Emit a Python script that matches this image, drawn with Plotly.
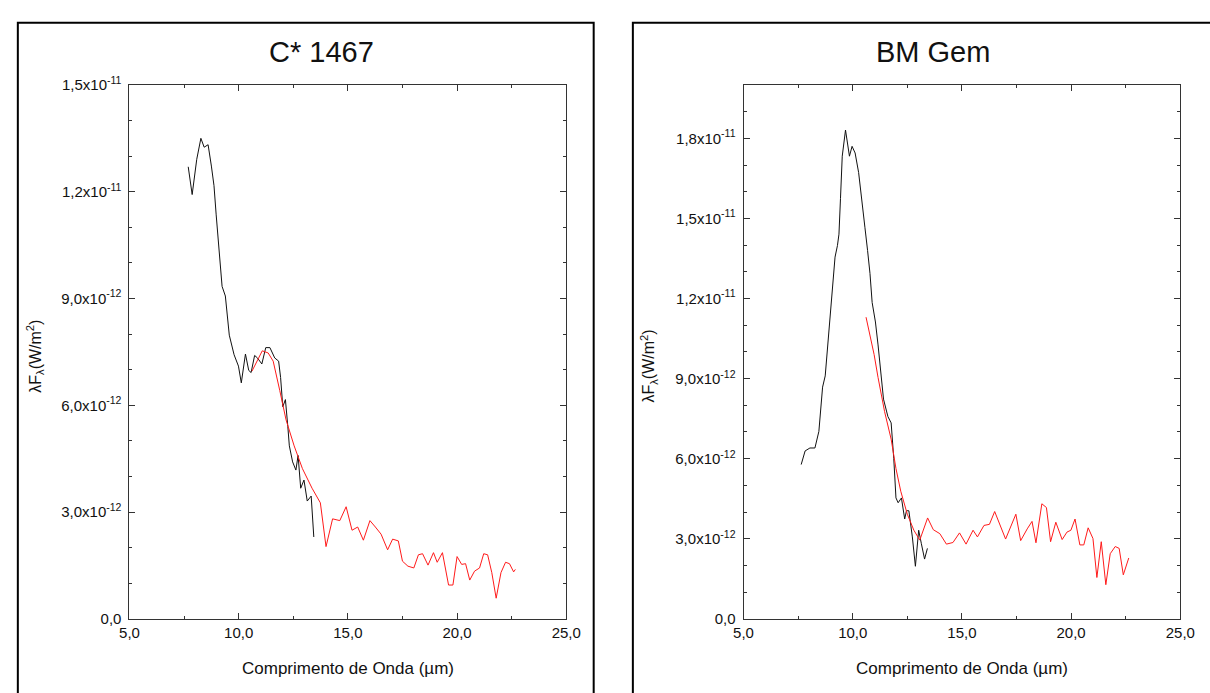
import plotly.graph_objects as go

# ---------------- data (units: x in micrometres, y in 1e-12 W/m^2) ----------------
c1467_black_x = [7.69, 7.87, 8.08, 8.27, 8.42, 8.60, 8.75, 8.87, 8.97, 9.09, 9.24, 9.39, 9.57, 9.79,
                 9.99, 10.12, 10.31, 10.46, 10.57, 10.73, 10.86, 11.06, 11.24, 11.43, 11.65, 11.83,
                 11.92, 12.02, 12.14, 12.25, 12.32, 12.47, 12.62, 12.72, 12.84, 12.99, 13.14, 13.32, 13.44]
c1467_black_y = [12.70, 11.92, 12.91, 13.50, 13.25, 13.32, 12.72, 12.17, 11.35, 10.53, 9.34, 9.07, 7.97, 7.42,
                 7.10, 6.63, 7.44, 6.98, 6.92, 7.40, 7.33, 7.16, 7.62, 7.62, 7.33, 7.24,
                 6.78, 5.96, 6.16, 5.41, 4.86, 4.41, 4.18, 4.59, 3.67, 3.90, 3.31, 3.45, 2.30]

c1467_red_x = [10.61, 10.83, 11.08, 11.35, 11.58, 11.88, 12.17, 12.54, 12.92, 13.36, 13.74, 14.00, 14.30,
               14.63, 14.92, 15.19, 15.45, 15.71, 16.01, 16.26, 16.52, 16.82, 17.05, 17.31, 17.50, 17.75,
               18.02, 18.23, 18.42, 18.67, 18.92, 19.09, 19.33, 19.61, 19.81, 20.00, 20.21, 20.39, 20.58,
               20.80, 21.03, 21.22, 21.40, 21.59, 21.79, 22.01, 22.22, 22.40, 22.59, 22.67]
c1467_red_y = [6.96, 7.24, 7.53, 7.47, 7.24, 6.42, 5.59, 4.86, 4.22, 3.67, 3.26, 2.03, 2.81,
               2.76, 3.15, 2.49, 2.58, 2.21, 2.76, 2.58, 2.38, 1.94, 2.24, 2.19, 1.62, 1.48,
               1.43, 1.80, 1.83, 1.51, 1.86, 1.59, 1.86, 0.95, 0.95, 1.75, 1.53, 1.55, 1.09,
               1.34, 1.43, 1.83, 1.80, 1.30, 0.58, 1.30, 1.59, 1.55, 1.32, 1.39]

bmgem_black_x = [7.64, 7.82, 8.04, 8.27, 8.45, 8.62, 8.74, 8.85, 8.95, 9.07, 9.19, 9.30, 9.37, 9.44,
                 9.52, 9.67, 9.74, 9.85, 9.97, 10.11, 10.27, 10.41, 10.56, 10.68, 10.79, 10.89, 11.04,
                 11.16, 11.31, 11.41, 11.61, 11.76, 11.88, 11.98, 12.08, 12.23, 12.38, 12.46, 12.57,
                 12.73, 12.87, 13.02, 13.14, 13.29, 13.42]
bmgem_black_y = [5.78, 6.29, 6.40, 6.40, 7.02, 8.68, 9.10, 10.14, 11.24, 12.21, 13.55, 13.98, 14.41, 15.75,
                 17.33, 18.31, 17.94, 17.33, 17.70, 17.45, 16.72, 15.62, 14.65, 13.80, 12.94, 11.85, 11.12,
                 10.26, 9.17, 8.23, 7.58, 7.34, 6.00, 4.53, 4.35, 4.53, 3.74, 4.05, 4.05,
                 3.07, 1.97, 3.32, 2.83, 2.24, 2.64]

bmgem_red_x = [10.61, 10.79, 10.98, 11.16, 11.34, 11.46, 11.76, 11.98, 12.20, 12.50, 12.65, 12.80, 13.07,
               13.43, 13.69, 13.99, 14.29, 14.59, 14.89, 15.19, 15.51, 15.71, 16.01, 16.26, 16.50, 16.75,
               17.00, 17.47, 17.69, 17.99, 18.21, 18.39, 18.66, 18.87, 19.06, 19.30, 19.59, 19.81, 19.99,
               20.18, 20.40, 20.58, 20.78, 21.00, 21.18, 21.38, 21.59, 21.79, 22.02, 22.20, 22.39, 22.64]
bmgem_red_y = [11.30, 10.63, 9.90, 9.04, 8.23, 7.76, 6.73, 5.63, 4.78, 3.92, 3.62, 3.32, 2.95,
               3.78, 3.34, 3.19, 2.80, 2.86, 3.22, 2.80, 3.32, 3.07, 3.50, 3.54, 4.02, 3.50,
               2.99, 3.92, 2.93, 3.37, 3.65, 2.85, 4.31, 4.17, 2.89, 3.62, 2.97, 3.25, 3.32,
               3.74, 2.77, 2.77, 3.41, 3.01, 1.55, 2.89, 1.28, 2.44, 2.71, 2.64, 1.65, 2.28]

titles = ["C* 1467", "BM Gem"]
x_ticks = [5, 10, 15, 20, 25]
x_ticktext = ["5,0", "10,0", "15,0", "20,0", "25,0"]
y_ticks_left = [0, 3, 6, 9, 12, 15]
y_ticks_right = [0, 3, 6, 9, 12, 15, 18]
y_ticktext_all = ["0,0", "3,0x10<sup>-12</sup>", "6,0x10<sup>-12</sup>", "9,0x10<sup>-12</sup>",
                  "1,2x10<sup>-11</sup>", "1,5x10<sup>-11</sup>", "1,8x10<sup>-11</sup>"]
x_title = "Comprimento de Onda (µm)"
y_title = "λF<sub>λ</sub>(W/m<sup>2</sup>)"

SCALE = 1e-12

W, H = 1210, 693
FONT = "Liberation Sans, Arial, sans-serif"


def px(x):
    return x / W


def py(y):
    return 1 - y / H


fig = go.Figure()

line_black = dict(color="#111111", width=1)
line_red = dict(color="#ff1a1a", width=1)

fig.add_trace(go.Scatter(x=c1467_black_x, y=[v * SCALE for v in c1467_black_y], mode="lines",
                         line=line_black, xaxis="x", yaxis="y", showlegend=False))
fig.add_trace(go.Scatter(x=c1467_red_x, y=[v * SCALE for v in c1467_red_y], mode="lines",
                         line=line_red, xaxis="x", yaxis="y", showlegend=False))
fig.add_trace(go.Scatter(x=bmgem_black_x, y=[v * SCALE for v in bmgem_black_y], mode="lines",
                         line=line_black, xaxis="x2", yaxis="y2", showlegend=False))
fig.add_trace(go.Scatter(x=bmgem_red_x, y=[v * SCALE for v in bmgem_red_y], mode="lines",
                         line=line_red, xaxis="x2", yaxis="y2", showlegend=False))

axis_common = dict(showline=True, linecolor="#333333", linewidth=1, mirror="allticks",
                   ticks="inside", ticklen=6, tickcolor="#333333", showgrid=False, zeroline=False,
                   tickfont=dict(family=FONT, size=15, color="#111111"), fixedrange=True)

xdom_l = [px(122), px(568)]
xdom_r = [px(749), px(1195)]
ydom = [py(625), py(76)]

fig.update_layout(
    width=W, height=H, margin=dict(l=0, r=0, t=0, b=0),
    paper_bgcolor="white", plot_bgcolor="white",
    xaxis=dict(domain=xdom_l, range=[5, 25], tickvals=x_ticks, ticktext=x_ticktext, anchor="y",
               minor=dict(dtick=2.5, tick0=5, ticks="inside", ticklen=3, tickcolor="#333333"),
               **axis_common),
    yaxis=dict(domain=ydom, range=[0, 15 * SCALE], anchor="x",
               tickvals=[v * SCALE for v in y_ticks_left], ticktext=y_ticktext_all[:len(y_ticks_left)],
               minor=dict(dtick=1 * SCALE, tick0=0, ticks="inside", ticklen=3, tickcolor="#333333"),
               ticklabelstandoff=4, **axis_common),
    xaxis2=dict(domain=xdom_r, range=[5, 25], tickvals=x_ticks, ticktext=x_ticktext, anchor="y2",
                minor=dict(dtick=2.5, tick0=5, ticks="inside", ticklen=3, tickcolor="#333333"),
                **axis_common),
    yaxis2=dict(domain=ydom, range=[0, 20 * SCALE], anchor="x2",
                tickvals=[v * SCALE for v in y_ticks_right], ticktext=y_ticktext_all[:len(y_ticks_right)],
                minor=dict(dtick=1 * SCALE, tick0=0, ticks="inside", ticklen=3, tickcolor="#333333"),
                ticklabelstandoff=4, **axis_common),
    font=dict(family=FONT, color="#111111"),
)

# outer frames of each panel
fig.add_shape(type="rect", xref="paper", yref="paper", x0=px(8), x1=px(596), y0=-0.05, y1=py(12),
              line=dict(color="black", width=2), fillcolor="rgba(0,0,0,0)", layer="below")
fig.add_shape(type="rect", xref="paper", yref="paper", x0=px(636), x1=1.05, y0=-0.05, y1=py(12),
              line=dict(color="black", width=2), fillcolor="rgba(0,0,0,0)", layer="below")

# titles and axis titles
for title, cx in zip(titles, [318, 942]):
    fig.add_annotation(text=title, x=px(cx), y=py(42), xref="paper", yref="paper", showarrow=False,
                       font=dict(family=FONT, size=29, color="#111111"), xanchor="center", yanchor="middle")

for cx in [(122 + 568) / 2, (749 + 1195) / 2]:
    fig.add_annotation(text=x_title, x=px(cx), y=py(676), xref="paper", yref="paper", showarrow=False,
                       font=dict(family=FONT, size=17, color="#111111"), xanchor="center", yanchor="middle")

for cx, cy in [(26, 355), (652, 365)]:
    fig.add_annotation(text=y_title, x=px(cx), y=py(cy), xref="paper", yref="paper", showarrow=False,
                       textangle=-90, font=dict(family=FONT, size=16, color="#111111"),
                       xanchor="center", yanchor="middle")

fig.write_html("out.html")
